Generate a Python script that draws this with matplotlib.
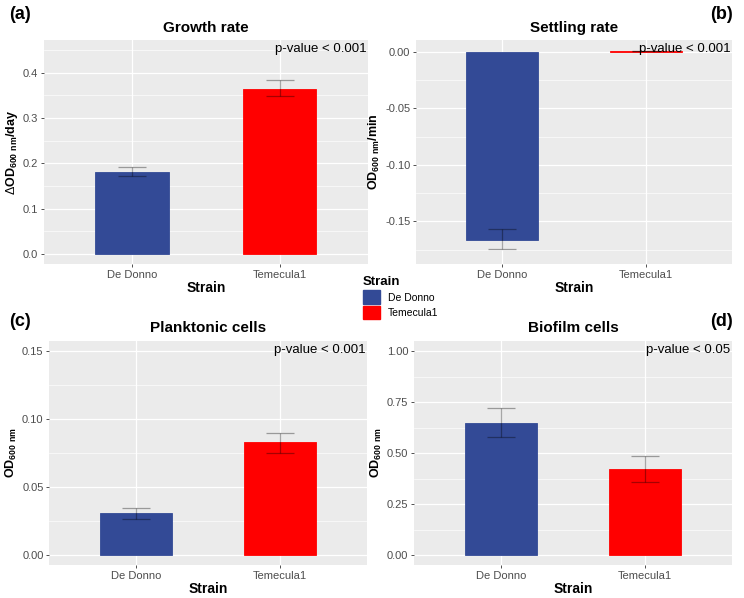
import matplotlib.pyplot as plt
from matplotlib.patches import Patch
from matplotlib.ticker import MultipleLocator

plt.rcParams['font.family'] = ['Liberation Sans', 'DejaVu Sans']
plt.rcParams['mathtext.fontset'] = 'custom'
plt.rcParams['mathtext.rm'] = 'Liberation Sans'
plt.rcParams['mathtext.bf'] = 'Liberation Sans:bold'

strains = ['De Donno', 'Temecula1']
colors = ['#334A96', '#FF0000']

growth = [0.181, 0.365]
growth_lo = [0.171, 0.348]
growth_hi = [0.191, 0.383]

settling = [-0.166, 0.0003]
settling_lo = [-0.1745, 0.0003]
settling_hi = [-0.157, 0.0003]

plank = [0.031, 0.083]
plank_lo = [0.027, 0.0755]
plank_hi = [0.0345, 0.090]

biofilm = [0.651, 0.424]
biofilm_lo = [0.578, 0.362]
biofilm_hi = [0.724, 0.485]

titles = ['Growth rate', 'Settling rate', 'Planktonic cells', 'Biofilm cells']
pvals = ['p-value < 0.001', 'p-value < 0.001', 'p-value < 0.001', 'p-value < 0.05']
ylabels = [r'$\Delta\mathbf{OD_{600\ nm}/day}$', r'$\mathbf{OD_{600\ nm}/min}$',
           r'$\mathbf{OD_{600\ nm}}$', r'$\mathbf{OD_{600\ nm}}$']
letters = ['(a)', '(b)', '(c)', '(d)']


def panel(ax, vals, lo, hi, ylim, major, fmt, title, pval, ylabel):
  ax.set_facecolor('#EBEBEB')
  x = [1, 2]
  ax.bar(x, vals, width=0.5, color=colors, edgecolor=colors, linewidth=0.6, zorder=2)
  err = [[v - l for v, l in zip(vals, lo)], [h - v for v, h in zip(vals, hi)]]
  ax.errorbar(x, vals, yerr=err, fmt='none', ecolor='black', alpha=0.35,
              elinewidth=0.9, capsize=10, capthick=0.9, zorder=3)
  ax.set_xlim(0.4, 2.6)
  ax.set_ylim(*ylim)
  ax.set_xticks(x)
  ax.set_xticklabels(strains)
  ax.yaxis.set_major_locator(MultipleLocator(major))
  ax.yaxis.set_minor_locator(MultipleLocator(major / 2))
  ax.yaxis.set_major_formatter(plt.FormatStrFormatter(fmt))
  ax.grid(which='major', color='white', linewidth=0.9, zorder=0)
  ax.grid(which='minor', axis='y', color='white', linewidth=0.45, zorder=0)
  ax.set_axisbelow(True)
  for s in ax.spines.values():
    s.set_visible(False)
  ax.tick_params(which='major', colors='#333333', labelcolor='#4D4D4D',
                 labelsize=8, length=2.5, width=0.6, pad=1.5)
  ax.tick_params(which='minor', length=0)
  ax.set_title(title, fontsize=11, fontweight='bold', pad=6)
  ax.set_xlabel('Strain', fontsize=10, fontweight='bold', labelpad=1)
  ax.set_ylabel(ylabel, fontsize=9, labelpad=2)
  ax.text(0.995, 0.985, pval, transform=ax.transAxes, ha='right', va='top', fontsize=9.5)


fig = plt.figure(figsize=(7.44, 5.98), dpi=100)
axa = fig.add_axes([0.059, 0.5585, 0.4355, 0.3746])
axb = fig.add_axes([0.559, 0.5585, 0.4249, 0.3746])
axc = fig.add_axes([0.066, 0.0552, 0.4273, 0.3751])
axd = fig.add_axes([0.5565, 0.0552, 0.4274, 0.3751])

panel(axa, growth, growth_lo, growth_hi, (-0.022, 0.472), 0.1, '%.1f', titles[0], pvals[0], ylabels[0])
panel(axb, settling, settling_lo, settling_hi, (-0.1876, 0.0104), 0.05, '%.2f', titles[1], pvals[1], ylabels[1])
panel(axc, plank, plank_lo, plank_hi, (-0.0071, 0.1578), 0.05, '%.2f', titles[2], pvals[2], ylabels[2])
panel(axd, biofilm, biofilm_lo, biofilm_hi, (-0.047, 1.052), 0.25, '%.2f', titles[3], pvals[3], ylabels[3])

fig.text(0.012, 0.975, letters[0], fontsize=13, fontweight='bold', va='center')
fig.text(0.985, 0.975, letters[1], fontsize=13, fontweight='bold', va='center', ha='right')
fig.text(0.012, 0.462, letters[2], fontsize=13, fontweight='bold', va='center')
fig.text(0.985, 0.462, letters[3], fontsize=13, fontweight='bold', va='center', ha='right')

handles = [Patch(facecolor=c, edgecolor=c) for c in colors]
leg = fig.legend(handles, strains, title='Strain', loc='upper left',
                 bbox_to_anchor=(0.478, 0.55), frameon=False, fontsize=7.5,
                 handlelength=1.6, handleheight=1.6, handletextpad=0.8,
                 labelspacing=0.2, borderpad=0.2)
leg.get_title().set_fontweight('bold')
leg.get_title().set_fontsize(9.5)
leg._legend_box.align = 'left'

fig.savefig('out.png', dpi=100)
